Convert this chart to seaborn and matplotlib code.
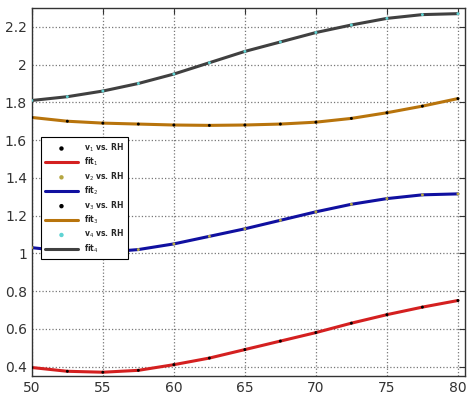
import numpy as np
import matplotlib
matplotlib.use("Agg")
import matplotlib.pyplot as plt
import pandas as pd
import seaborn as sns

rh = [50, 52.5, 55, 57.5, 60, 62.5, 65, 67.5, 70, 72.5, 75, 77.5, 80]
v1 = [0.395, 0.375, 0.37, 0.38, 0.41, 0.445, 0.49, 0.535, 0.58, 0.63, 0.675, 0.715, 0.75]
v2 = [1.03, 1.01, 1.005, 1.02, 1.05, 1.09, 1.13, 1.175, 1.22, 1.26, 1.29, 1.31, 1.315]
v3 = [1.72, 1.70, 1.69, 1.685, 1.68, 1.678, 1.68, 1.685, 1.695, 1.715, 1.745, 1.78, 1.82]
v4 = [1.81, 1.83, 1.86, 1.90, 1.95, 2.01, 2.07, 2.12, 2.17, 2.21, 2.245, 2.265, 2.27]

series = [v1, v2, v3, v4]
dot_colors = ["black", "#b5a642", "black", "#5fd3d3"]
fit_colors = ["#d42020", "#1010a0", "#b8740c", "#404040"]

sns.set_style("white")
fig = plt.figure(figsize=(4.75, 4.0), dpi=100)
ax = fig.add_axes([0.067, 0.06, 0.912, 0.92])

for i, vals in enumerate(series):
    df = pd.DataFrame({"RH": rh, "v": vals})
    sns.lineplot(data=df, x="RH", y="v", ax=ax, color=fit_colors[i], lw=2.2,
                 label=f"fit$_{i+1}$", zorder=2)
    sns.scatterplot(data=df, x="RH", y="v", ax=ax, color=dot_colors[i], marker=".",
                    s=18, edgecolor="none", label=f"v$_{i+1}$ vs. RH", zorder=3)

ax.set_xlim(50, 80.5)
ax.set_ylim(0.35, 2.3)
ax.set_xticks([50, 55, 60, 65, 70, 75, 80])
ax.set_yticks([0.4, 0.6, 0.8, 1.0, 1.2, 1.4, 1.6, 1.8, 2.0, 2.2])
ax.set_yticklabels(["0.4", "0.6", "0.8", "1", "1.2", "1.4", "1.6", "1.8", "2", "2.2"])
ax.set_xlabel("")
ax.set_ylabel("")
ax.grid(True, linestyle=":", color="#777777", lw=0.9)
ax.tick_params(direction="in", length=4, labelsize=10, colors="#333333",
               top=True, right=True)
for s in ax.spines.values():
    s.set_color("#333333")
    s.set_linewidth(1.0)

h, l = ax.get_legend_handles_labels()
order = []
for i in range(4):
    order += [l.index(f"v$_{i+1}$ vs. RH"), l.index(f"fit$_{i+1}$")]
leg = ax.legend([h[k] for k in order], [l[k] for k in order],
                loc="upper left", bbox_to_anchor=(0.012, 0.66), fontsize=5.5,
                frameon=True, fancybox=False, edgecolor="black", framealpha=1,
                handlelength=4.2, labelspacing=0.25, borderpad=0.6, markerscale=1.5)
leg.get_frame().set_linewidth(0.8)
for t in leg.get_texts():
    t.set_fontweight("bold")

fig.savefig("out.png", dpi=100)
